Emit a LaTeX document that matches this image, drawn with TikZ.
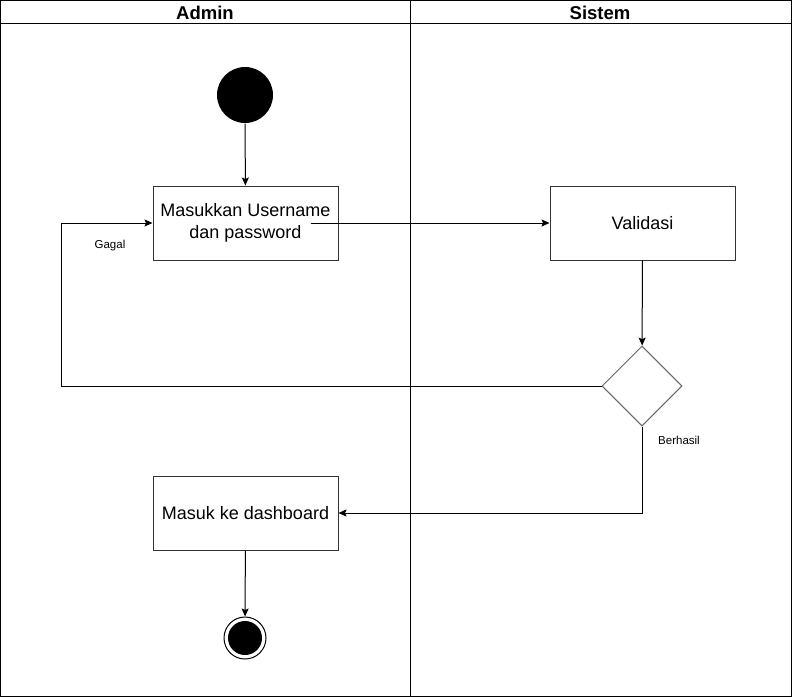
\documentclass[tikz,border=0pt]{standalone}
\usepackage{fontspec}
\setmainfont{Liberation Sans}
\usetikzlibrary{shapes.geometric, arrows, arrows.meta}

\begin{document}
\begin{tikzpicture}[x=1pt, y=-1pt, line width=1pt]
    % Define styles
    \tikzstyle{lane} = [draw=black, line width=1pt]
    \tikzstyle{header} = [font=\fontsize{18.5}{21}\selectfont\bfseries, text centered]
    \tikzstyle{process} = [rectangle, minimum width=185, minimum height=74, align=center, draw=black!80, font=\fontsize{18}{22}\selectfont]
    \tikzstyle{decision} = [diamond, minimum width=80, minimum height=80, inner sep=0, draw=black!60, fill=white]
    \tikzstyle{startnode} = [circle, minimum size=56, inner sep=0, fill=black]
    \tikzstyle{endnode} = [circle, minimum size=42, inner sep=0, draw=black]
    \tikzstyle{guard} = [font=\fontsize{11.5}{14}\selectfont]
    \tikzstyle{arrow} = [-{Stealth[length=8pt, width=7pt, inset=1.5pt]}, line width=1pt]

    \useasboundingbox (0,0) rectangle (792,697);

    % Swimlanes
    \draw [lane] (0.5,0.5) rectangle (791.5,696.5);
    \draw [lane] (0.5,23) -- (791.5,23);
    \draw [lane] (410,0.5) -- (410,696.5);
    \node (admin) [header] at (205,13) {Admin};
    \node (sistem) [header] at (600,13) {Sistem};

    % Nodes
    \node (start) [startnode] at (245,95) {};
    \node (input) [process] at (245.5,223) {Masukkan Username\\dan password};
    \node (validasi) [process] at (642.5,223) {Validasi};
    \coordinate (belok) at (61,386);
    \node (cek) [decision] at (642,386) {};
    \node (dashboard) [process] at (245.5,513) {Masuk ke dashboard};
    \node (end) [endnode] at (245,638) {};
    \fill (end) circle (17);

    % Arrows
    \draw [arrow] (start) -- (input);
    \draw [arrow] ([xshift=-28]input.east) -- (validasi);
    \draw [arrow] (validasi) -- (cek);
    \draw [arrow] (cek.west) -- (belok) |- (input.west);
    \draw [arrow] (cek.south) |- (dashboard.east);
    \draw [arrow] (dashboard) -- (end);

    % Labels
    \node (gagal) [guard] at (110,246) {Gagal};
    \node (berhasil) [guard] at (679,440) {Berhasil};
\end{tikzpicture}
\end{document}
